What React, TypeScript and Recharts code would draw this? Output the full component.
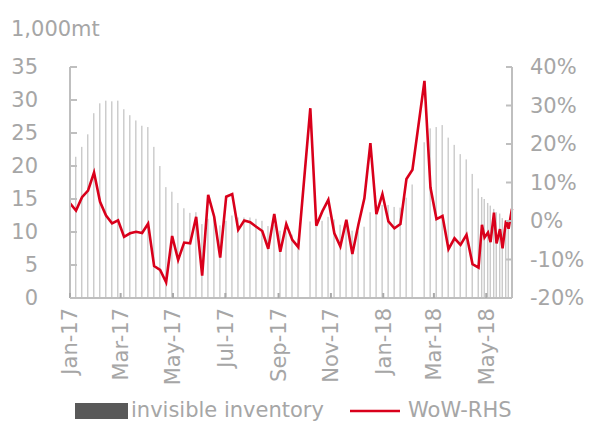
import React from 'react';
import { ComposedChart, Bar, Line, XAxis, YAxis } from 'recharts';

const START = '2017-01-01';

// weekly observations (gaps: National Day week, CNY week), then twice-weekly from late Apr-18
const DATES = [
  '2017-01-01', '2017-01-08', '2017-01-15', '2017-01-22', '2017-01-29',
  '2017-02-05', '2017-02-12', '2017-02-19', '2017-02-26',
  '2017-03-05', '2017-03-12', '2017-03-19', '2017-03-26',
  '2017-04-02', '2017-04-09', '2017-04-16', '2017-04-23', '2017-04-30',
  '2017-05-07', '2017-05-14', '2017-05-21', '2017-05-28',
  '2017-06-04', '2017-06-11', '2017-06-18', '2017-06-25',
  '2017-07-02', '2017-07-09', '2017-07-16', '2017-07-23', '2017-07-30',
  '2017-08-06', '2017-08-13', '2017-08-20', '2017-08-27',
  '2017-09-03', '2017-09-10', '2017-09-17', '2017-09-24',
  '2017-10-08', '2017-10-15', '2017-10-22', '2017-10-29',
  '2017-11-05', '2017-11-12', '2017-11-19', '2017-11-26',
  '2017-12-03', '2017-12-10', '2017-12-17', '2017-12-24', '2017-12-31',
  '2018-01-07', '2018-01-14', '2018-01-21', '2018-01-28',
  '2018-02-04', '2018-02-18', '2018-02-25',
  '2018-03-04', '2018-03-11', '2018-03-18', '2018-03-25',
  '2018-04-01', '2018-04-08', '2018-04-15', '2018-04-22',
  '2018-04-26', '2018-04-29', '2018-05-03', '2018-05-06', '2018-05-10',
  '2018-05-13', '2018-05-17', '2018-05-20', '2018-05-24', '2018-05-27', '2018-05-31',
];

// invisible inventory, 1,000mt
const INVENTORY = [
  20.6, 21.4, 22.9, 24.8, 28.0,
  29.5, 29.9, 29.8, 29.9,
  28.6, 27.7, 26.9, 26.1,
  25.9, 22.9, 20.0, 16.8, 16.1,
  14.4, 13.6, 12.9, 13.0,
  11.2, 12.0, 12.1, 11.0,
  11.7, 12.5, 12.2, 12.2, 12.2,
  12.0, 11.7, 10.9, 11.1,
  10.2, 10.1, 9.6, 9.0,
  11.6, 11.4, 11.7, 12.3,
  11.9, 11.1, 11.1, 10.2,
  10.1, 10.8, 13.0, 13.2, 14.1,
  14.1, 13.8, 13.7, 15.2,
  17.2, 23.6, 25.7,
  25.9, 26.2, 24.3, 23.2,
  21.8, 21.0, 18.8, 16.6,
  15.3, 15.0, 14.4, 14.0, 13.5,
  13.0, 12.8, 12.1, 11.8, 11.5, 11.2,
];

// week-on-week change, %
const WOW = [
  4.6, 2.7, 6.2, 7.9, 12.6,
  5.0, 1.4, -0.6, 0.2,
  -4.1, -3.2, -2.8, -3.1,
  -0.7, -11.7, -12.7, -15.9, -3.9,
  -10.1, -5.6, -5.8, 1.1,
  -14.2, 6.8, 1.1, -9.5,
  6.3, 7.0, -2.3, 0.1, -0.3,
  -1.5, -2.6, -7.2, 1.8,
  -8.0, -0.8, -4.9, -6.8,
  29.3, -1.2, 2.5, 5.5,
  -3.2, -6.6, 0.3, -8.6,
  -1.0, 5.9, 20.2, 1.8, 7.0,
  -0.1, -1.9, -0.8, 10.9,
  13.3, 36.4, 8.7,
  0.5, 1.3, -7.3, -4.5,
  -6.2, -3.6, -11.2, -12.1,
  -1.0, -4.3, -3.0, -5.5, 2.2,
  -5.8, -2.1, -7.1, 0.1, -2.0, 3.2,
];

const TICK_DATES = ['2017-01-01', '2017-03-01', '2017-05-01', '2017-07-01', '2017-09-01', '2017-11-01', '2018-01-01', '2018-03-01', '2018-05-01'];
const TICK_LABELS = ['Jan-17', 'Mar-17', 'May-17', 'Jul-17', 'Sep-17', 'Nov-17', 'Jan-18', 'Mar-18', 'May-18'];
const LEFT_TICKS = [0, 5, 10, 15, 20, 25, 30, 35];
const RIGHT_TICKS = [-20, -10, 0, 10, 20, 30, 40];

const dayOf = (s: string) => Math.round((Date.parse(s) - Date.parse(START)) / 86400000);
const tickDays = TICK_DATES.map(dayOf);

const data = DATES.map((d, i) => ({ day: dayOf(d), inv: INVENTORY[i], wow: WOW[i] }));

const FONT = '"DejaVu Sans", Verdana, sans-serif';
const TEXT = '#a6a6a6';
const AXIS = '#bfbfbf';
const RED = '#d9001b';

const ThinBar = (props: any) => {
  const { x, y, width, height } = props;
  if (!height || height <= 0) return null;
  const cx = x + width / 2;
  return <rect x={cx - 0.7} y={y} width={1.4} height={height} fill="#cacaca" />;
};

const LeftTick = ({ x, y, payload }: any) => (
  <g>
    <line x1={x} y1={y} x2={x + 7} y2={y} stroke={AXIS} strokeWidth={2} />
    <text x={x - 32} y={y} dy="0.35em" textAnchor="end" fill={TEXT} fontSize={21} fontFamily={FONT}>
      {payload.value}
    </text>
  </g>
);

const RightTick = ({ x, y, payload }: any) => (
  <g>
    <line x1={x - 6} y1={y} x2={x} y2={y} stroke={AXIS} strokeWidth={2} />
    <text x={x + 18} y={y} dy="0.35em" textAnchor="start" fill={TEXT} fontSize={21} fontFamily={FONT}>
      {`${payload.value}%`}
    </text>
  </g>
);

const DateTick = ({ x, y, payload }: any) => {
  const label = TICK_LABELS[tickDays.indexOf(payload.value)] ?? '';
  return (
    <g>
      <line x1={x} y1={y} x2={x} y2={y - 5} stroke="#a9a9a9" strokeWidth={2} />
      <text
        transform={`translate(${x},${y + 10}) rotate(-90)`}
        dy="0.35em"
        textAnchor="end"
        fill={TEXT}
        fontSize={21}
        fontFamily={FONT}
      >
        {label}
      </text>
    </g>
  );
};

export default function App() {
  return (
    <div style={{ position: 'fixed', left: 0, top: 0, width: 594, height: 423, background: '#fff', overflow: 'hidden' }}>
      <ComposedChart width={594} height={423} data={data} margin={{ top: 67, right: 0, bottom: 0, left: 0 }}>
        <XAxis
          dataKey="day"
          type="number"
          domain={[0, 515]}
          ticks={tickDays}
          interval={0}
          height={125}
          tickSize={0}
          tickMargin={0}
          tickLine={false}
          axisLine={{ stroke: AXIS, strokeWidth: 2 }}
          tick={<DateTick />}
        />
        <YAxis
          yAxisId="left"
          orientation="left"
          width={70}
          domain={[0, 35]}
          ticks={LEFT_TICKS}
          interval={0}
          tickSize={0}
          tickMargin={0}
          tickLine={false}
          axisLine={{ stroke: AXIS, strokeWidth: 2 }}
          tick={<LeftTick />}
        />
        <YAxis
          yAxisId="right"
          orientation="right"
          width={82}
          domain={[-20, 40]}
          ticks={RIGHT_TICKS}
          interval={0}
          tickSize={0}
          tickMargin={0}
          tickLine={false}
          axisLine={{ stroke: AXIS, strokeWidth: 2 }}
          tick={<RightTick />}
        />
        <Bar yAxisId="left" dataKey="inv" barSize={2} shape={<ThinBar />} isAnimationActive={false} />
        <Line
          yAxisId="right"
          dataKey="wow"
          type="linear"
          stroke={RED}
          strokeWidth={2.6}
          dot={false}
          activeDot={false}
          isAnimationActive={false}
        />
      </ComposedChart>
      <svg width={594} height={423} style={{ position: 'absolute', left: 0, top: 0, pointerEvents: 'none' }}>
        <text x={11} y={36} fill={TEXT} fontSize={21} fontFamily={FONT}>1,000mt</text>
        <rect x={75} y={403} width={53} height={16} fill="#595959" />
        <text x={131} y={417} fill={TEXT} fontSize={21} fontFamily={FONT}>invisible inventory</text>
        <line x1={350} y1={411} x2={400} y2={411} stroke={RED} strokeWidth={2.6} />
        <text x={408} y={417} fill={TEXT} fontSize={21} fontFamily={FONT}>WoW-RHS</text>
      </svg>
    </div>
  );
}
